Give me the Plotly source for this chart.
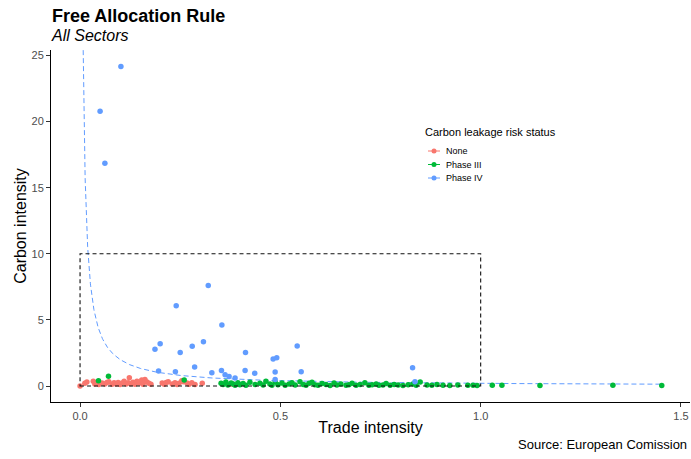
import numpy as np
import plotly.graph_objects as go

# Sector-level data: trade intensity (x) vs carbon intensity (y), by carbon leakage risk status
none_trade = [0.000, 0.012, 0.017, 0.033, 0.037, 0.042, 0.047, 0.055, 0.062, 0.067, 0.072, 0.080,
              0.085, 0.090, 0.095, 0.100, 0.105, 0.110, 0.115, 0.120, 0.123, 0.127, 0.132, 0.137,
              0.142, 0.147, 0.154, 0.157, 0.162, 0.167, 0.172, 0.177, 0.205, 0.210, 0.215, 0.220,
              0.230, 0.237, 0.242, 0.247, 0.254, 0.258, 0.267, 0.272, 0.279, 0.287, 0.305, 0.381]
none_carbon = [0.00, 0.20, 0.30, 0.36, 0.15, 0.25, 0.12, 0.22, 0.15, 0.26, 0.33, 0.14,
               0.24, 0.16, 0.27, 0.12, 0.23, 0.35, 0.15, 0.25, 0.63, 0.17, 0.28, 0.13,
               0.36, 0.22, 0.45, 0.14, 0.50, 0.30, 0.20, 0.13, 0.23, 0.14, 0.26, 0.33,
               0.15, 0.24, 0.12, 0.21, 0.40, 0.32, 0.22, 0.13, 0.24, 0.12, 0.20, 0.13]

phase3_trade = [0.046, 0.071, 0.260, 0.352, 0.357, 0.364, 0.369, 0.377, 0.382, 0.387, 0.394,
                0.399, 0.407, 0.414, 0.424, 0.437, 0.449, 0.457, 0.464, 0.474, 0.479, 0.487,
                0.494, 0.504, 0.512, 0.522, 0.529, 0.537, 0.549, 0.557, 0.564, 0.572, 0.579,
                0.586, 0.594, 0.604, 0.614, 0.624, 0.634, 0.641, 0.651, 0.664, 0.671, 0.679,
                0.689, 0.699, 0.711, 0.721, 0.729, 0.739, 0.746, 0.756, 0.764, 0.774, 0.784,
                0.794, 0.806, 0.819, 0.831, 0.839, 0.849, 0.866, 0.878, 0.891, 0.906, 0.923,
                0.943, 0.968, 0.981, 0.991, 1.029, 1.053, 1.148, 1.330, 1.452]
phase3_carbon = [0.40, 0.73, 0.45, 0.20, 0.12, 0.30, 0.08, 0.22, 0.15, 0.05, 0.25,
                 0.10, 0.18, 0.06, 0.28, 0.12, 0.20, 0.08, 0.35, 0.15, 0.05, 0.30,
                 0.10, 0.22, 0.06, 0.15, 0.25, 0.08, 0.33, 0.12, 0.05, 0.20, 0.28,
                 0.10, 0.06, 0.18, 0.12, 0.04, 0.22, 0.08, 0.15, 0.05, 0.10, 0.20,
                 0.06, 0.12, 0.25, 0.05, 0.10, 0.15, 0.06, 0.08, 0.18, 0.05, 0.12,
                 0.08, 0.04, 0.10, 0.15, 0.06, 0.30, 0.08, 0.05, 0.12, 0.06, 0.04,
                 0.08, 0.05, 0.06, 0.04, 0.05, 0.06, 0.04, 0.05, 0.03]

phase4_trade = [0.102, 0.050, 0.062, 0.320, 0.240, 0.354, 0.200, 0.187, 0.308, 0.280, 0.250,
                0.413, 0.542, 0.482, 0.491, 0.286, 0.196, 0.238, 0.329, 0.353, 0.362, 0.372,
                0.387, 0.412, 0.436, 0.487, 0.552, 0.487, 0.830, 0.836]
phase4_carbon = [24.17, 20.77, 16.84, 7.60, 6.07, 4.61, 3.20, 2.77, 3.35, 3.00, 2.54,
                 2.54, 3.02, 2.04, 2.14, 1.43, 1.13, 1.08, 1.01, 1.18, 0.86, 0.71,
                 0.60, 1.18, 0.96, 1.06, 1.08, 0.50, 1.38, 0.33]

# Phase IV criterion: trade intensity x carbon intensity above 0.2
cli_threshold = 0.2
# Free-allocation box: trade intensity up to 1, carbon intensity up to 10
box_trade = [0, 1]
box_carbon = [0, 10]

colors = {"None": "#F8766D", "Phase III": "#00BA38", "Phase IV": "#619CFF"}
font_family = "Liberation Sans, Arial, sans-serif"

fig = go.Figure()

curve_x = np.geomspace(cli_threshold / 25.4, 1.452, 400)
fig.add_trace(go.Scatter(x=curve_x, y=cli_threshold / curve_x, mode="lines",
                         line=dict(color=colors["Phase IV"], width=1, dash="5px,3px"),
                         showlegend=False, hoverinfo="skip"))

for name, xs, ys in [("None", none_trade, none_carbon),
                     ("Phase III", phase3_trade, phase3_carbon),
                     ("Phase IV", phase4_trade, phase4_carbon)]:
    fig.add_trace(go.Scatter(x=xs, y=ys, mode="markers", name=name,
                             marker=dict(color=colors[name], size=5.5, line=dict(width=0)),
                             showlegend=False))

fig.add_shape(type="rect", xref="x", yref="y",
              x0=box_trade[0], x1=box_trade[1], y0=box_carbon[0], y1=box_carbon[1],
              line=dict(color="#111111", width=1.1, dash="4px,3px"), layer="above")

L, R, T, B = 51, 1, 50, 57
W, H = 691, 459
pw, ph = W - L - R, H - T - B


def px(xp):
    return (xp - L) / pw


def py(yp):
    return (H - B - yp) / ph


annotations = [
    dict(text="<i>All Sectors</i>", xref="paper", yref="paper", x=px(49), y=py(36),
         xanchor="left", yanchor="middle", showarrow=False,
         font=dict(size=16, color="black", family=font_family)),
    dict(text="Source: European Comission", xref="paper", yref="paper", x=px(689), y=py(444),
         xanchor="right", yanchor="middle", showarrow=False,
         font=dict(size=13, color="black", family=font_family)),
    dict(text="Carbon leakage risk status", xref="paper", yref="paper", x=px(423), y=py(132),
         xanchor="left", yanchor="middle", showarrow=False,
         font=dict(size=11, color="black", family=font_family)),
]

# Legend keys drawn as line + dot, one row per status
legend_rows = [("None", 151), ("Phase III", 164.5), ("Phase IV", 178)]
for name, yrow in legend_rows:
    fig.add_shape(type="line", xref="paper", yref="paper", x0=px(428), x1=px(440),
                  y0=py(yrow), y1=py(yrow), line=dict(color=colors[name], width=1))
    fig.add_shape(type="circle", xref="paper", yref="paper", xsizemode="pixel", ysizemode="pixel",
                  xanchor=px(434), yanchor=py(yrow), x0=-2.5, x1=2.5, y0=-2.5, y1=2.5,
                  fillcolor=colors[name], line=dict(width=0))
    annotations.append(dict(text=name, xref="paper", yref="paper", x=px(444), y=py(yrow),
                            xanchor="left", yanchor="middle", showarrow=False,
                            font=dict(size=9, color="black", family=font_family)))

fig.update_layout(
    width=W, height=H,
    margin=dict(l=L, r=R, t=T, b=B),
    paper_bgcolor="white", plot_bgcolor="white",
    font=dict(family=font_family),
    showlegend=False,
    title=dict(text="<b>Free Allocation Rule</b>", xref="container", yref="container",
               x=52 / W, y=1 - 16 / H, xanchor="left", yanchor="middle",
               font=dict(size=18, color="black", family=font_family)),
    annotations=annotations,
    xaxis=dict(range=[-0.0725, 1.5225], tickvals=[0, 0.5, 1.0, 1.5],
               ticktext=["0.0", "0.5", "1.0", "1.5"],
               showline=True, linecolor="black", linewidth=1, mirror=False,
               ticks="outside", ticklen=4, tickcolor="#333333", tickwidth=1,
               showgrid=False, zeroline=False,
               tickfont=dict(size=11, color="#4D4D4D"),
               title=dict(text="Trade intensity", standoff=0,
                          font=dict(size=16, color="black"))),
    yaxis=dict(range=[-1.21, 25.41], tickvals=[0, 5, 10, 15, 20, 25],
               showline=True, linecolor="black", linewidth=1, mirror=False,
               ticks="outside", ticklen=4, tickcolor="#333333", tickwidth=1,
               showgrid=False, zeroline=False,
               tickfont=dict(size=11, color="#4D4D4D"),
               title=dict(text="Carbon intensity", standoff=0,
                          font=dict(size=16, color="black"))),
)

fig.write_html("out.html")
